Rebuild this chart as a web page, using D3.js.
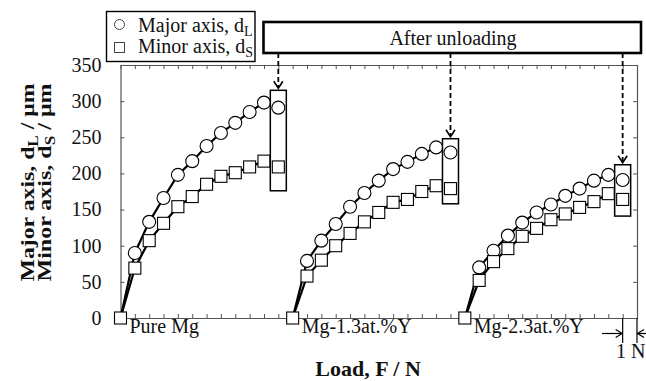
<!DOCTYPE html>
<html><head><meta charset="utf-8">
<script src="https://cdn.jsdelivr.net/npm/d3@7/dist/d3.min.js"></script>
<style>
body{margin:0;background:#fff}
svg{display:block}
text{font-family:"Liberation Serif","Times New Roman",serif;fill:#111}
</style>
</head><body>
<svg id="chart" width="646" height="381"></svg>
<script>
// Indentation diameters under increasing load, three alloys side by side
const groups = ["Pure Mg", "Mg-1.3at.%Y", "Mg-2.3at.%Y"];
const groupOffset = [0, 12, 24];            // load axis offset of each alloy (N)
const loads = [0, 1, 2, 3, 4, 5, 6, 7, 8, 9, 10];
const majorAxis = [
  [0, 90, 133, 166, 198, 217, 238, 256, 270, 285, 298],
  [0, 79, 107, 130, 154, 173, 190, 206, 216, 227, 236],
  [0, 70, 93, 114, 132, 146, 157, 169, 179, 190, 198]
];
const minorAxis = [
  [0, 69, 107, 131, 154, 168, 185, 196, 201, 209, 217],
  [0, 58, 80, 100, 117, 133, 146, 160, 164, 175, 183],
  [0, 52, 78, 96, 113, 124, 136, 144, 153, 161, 172]
];
// values measured after unloading, with the bracketing box
const unloadLoad = 11;
const unloadMajor = [291, 229, 191];
const unloadMinor = [209, 179, 164];
const unloadBoxTop = [315, 248, 212];
const unloadBoxBottom = [176, 158, 141];
const yTicks = [0, 50, 100, 150, 200, 250, 300, 350];
const xMax = 36;

const svg = d3.select("#chart");
const W = 646, H = 381;
const m = {left: 120.5, right: 9, top: 65, bottom: 63};
const x = d3.scaleLinear().domain([0, xMax]).range([m.left, W - m.right]);
const y = d3.scaleLinear().domain([0, 350]).range([H - m.bottom, m.top]);
const axisColor = "#555";

// frame with inward ticks on all four sides
const xt = d3.range(0, xMax + 1);
function styleAxis(g){
  g.selectAll(".domain").attr("stroke", axisColor).attr("stroke-width", 1.2);
  g.selectAll(".tick line").attr("stroke", axisColor).attr("stroke-width", 1);
}
svg.append("g").attr("transform", `translate(0,${y(0)})`)
  .call(d3.axisBottom(x).tickValues(xt).tickSize(-4).tickSizeOuter(0).tickFormat(""))
  .call(styleAxis);
svg.append("g").attr("transform", `translate(0,${y(350)})`)
  .call(d3.axisTop(x).tickValues(xt).tickSize(-4).tickSizeOuter(0).tickFormat(""))
  .call(styleAxis);
svg.append("g").attr("transform", `translate(${x(xMax)},0)`)
  .call(d3.axisRight(y).tickValues(yTicks).tickSize(-4).tickSizeOuter(0).tickFormat(""))
  .call(styleAxis);
const yAxis = svg.append("g").attr("transform", `translate(${x(0)},0)`)
  .call(d3.axisLeft(y).tickValues(yTicks).tickSize(-4).tickSizeOuter(0).tickPadding(19))
  .call(styleAxis);
yAxis.selectAll(".tick text")
  .attr("font-family", '"Liberation Serif","Times New Roman",serif')
  .attr("font-size", 20).attr("fill", "#111");

// y title, two rotated lines
const yTitles = [["Major axis, d", "L", " / μm"], ["Minor axis, d", "S", " / μm"]];
const yTitleX = [33.5, 50.5];
yTitles.forEach((parts, i) => {
  const t = svg.append("text")
    .attr("transform", `translate(${yTitleX[i]},182.5) rotate(-90)`)
    .attr("text-anchor", "middle").attr("font-size", 19.5).attr("font-weight", "bold")
    .attr("textLength", 198).attr("lengthAdjust", "spacingAndGlyphs");
  t.append("tspan").text(parts[0]);
  t.append("tspan").attr("font-size", 14).attr("dy", 4).text(parts[1]);
  t.append("tspan").attr("dy", -4).text(parts[2]);
});

// x title
svg.append("text").attr("x", 368).attr("y", 376)
  .attr("text-anchor", "middle").attr("font-size", 22).attr("font-weight", "bold")
  .text("Load, F / N");

// alloy names
svg.selectAll("text.grp").data(groups).join("text").attr("class", "grp")
  .attr("x", (d, i) => x(groupOffset[i]) + 9).attr("y", 333)
  .attr("font-size", 20).text(d => d);

// curves
const line = d3.line().x(d => x(d[0])).y(d => y(d[1]));
groups.forEach((g, i) => {
  const maj = loads.map((l, j) => [groupOffset[i] + l, majorAxis[i][j]]);
  const min = loads.map((l, j) => [groupOffset[i] + l, minorAxis[i][j]]);
  [maj, min].forEach(pts => svg.append("path").datum(pts)
    .attr("d", line).attr("fill", "none").attr("stroke", "#000").attr("stroke-width", 2.2));
});
groups.forEach((g, i) => {
  const maj = loads.map((l, j) => [groupOffset[i] + l, majorAxis[i][j]]).filter(d => d[0] > groupOffset[i]);
  const min = loads.map((l, j) => [groupOffset[i] + l, minorAxis[i][j]]);
  svg.append("g").selectAll("circle").data(maj).join("circle")
    .attr("cx", d => x(d[0])).attr("cy", d => y(d[1])).attr("r", 6.5)
    .attr("fill", "#fff").attr("stroke", "#000").attr("stroke-width", 1.1);
  svg.append("g").selectAll("rect").data(min).join("rect")
    .attr("x", d => x(d[0]) - 6).attr("y", d => y(d[1]) - 6)
    .attr("width", 12).attr("height", 12)
    .attr("fill", "#fff").attr("stroke", "#000").attr("stroke-width", 1.1);
});

// after-unloading boxes and markers
groups.forEach((g, i) => {
  const cx = x(groupOffset[i] + unloadLoad);
  svg.append("rect").attr("x", cx - 8).attr("y", y(unloadBoxTop[i]))
    .attr("width", 16).attr("height", y(unloadBoxBottom[i]) - y(unloadBoxTop[i]))
    .attr("fill", "#fff").attr("stroke", "#000").attr("stroke-width", 1.5);
  svg.append("circle").attr("cx", cx).attr("cy", y(unloadMajor[i])).attr("r", 6.5)
    .attr("fill", "#fff").attr("stroke", "#000").attr("stroke-width", 1.1);
  svg.append("rect").attr("x", cx - 6).attr("y", y(unloadMinor[i]) - 6)
    .attr("width", 12).attr("height", 12)
    .attr("fill", "#fff").attr("stroke", "#000").attr("stroke-width", 1.1);
});

// "After unloading" banner with dashed arrows down to each box
const banner = {x0: 263.5, x1: 641, y0: 22, y1: 53};
groups.forEach((g, i) => {
  const cx = x(groupOffset[i] + unloadLoad);
  const tip = y(unloadBoxTop[i]) - 2;
  svg.append("line").attr("x1", cx).attr("x2", cx).attr("y1", banner.y1).attr("y2", tip - 1)
    .attr("stroke", "#000").attr("stroke-width", 1.8).attr("stroke-dasharray", "5,3");
  svg.append("path").attr("d", `M${cx - 4.5},${tip - 7}L${cx},${tip}L${cx + 4.5},${tip - 7}`)
    .attr("fill", "none").attr("stroke", "#000").attr("stroke-width", 1.6);
});
svg.append("rect").attr("x", banner.x0).attr("y", banner.y0)
  .attr("width", banner.x1 - banner.x0).attr("height", banner.y1 - banner.y0)
  .attr("fill", "#fff").attr("stroke", "#000").attr("stroke-width", 2.6);
svg.append("text").attr("x", 453).attr("y", 45).attr("text-anchor", "middle")
  .attr("font-size", 20).text("After unloading");

// legend
svg.append("rect").attr("x", 106.5).attr("y", 11.5).attr("width", 148.5).attr("height", 50)
  .attr("fill", "#fff").attr("stroke", "#000").attr("stroke-width", 1.4);
svg.append("circle").attr("cx", 119.5).attr("cy", 24.5).attr("r", 5)
  .attr("fill", "#fff").attr("stroke", "#444").attr("stroke-width", 1);
svg.append("rect").attr("x", 114.5).attr("y", 42.5).attr("width", 10).attr("height", 10)
  .attr("fill", "#fff").attr("stroke", "#444").attr("stroke-width", 1);
const legendItems = [["Major axis, d", "L", 32], ["Minor axis, d", "S", 53]];
legendItems.forEach(([a, sub, by]) => {
  const t = svg.append("text").attr("x", 138).attr("y", by).attr("font-size", 20);
  t.append("tspan").text(a);
  t.append("tspan").attr("font-size", 14).attr("dy", 4).text(sub);
});

// 1 N scale marker below the right end of the load axis
const s0 = x(xMax - 1), s1 = x(xMax), sy = 333.5;
[s0, s1].forEach(sx => svg.append("line").attr("x1", sx).attr("x2", sx)
  .attr("y1", y(0)).attr("y2", 343).attr("stroke", "#000").attr("stroke-width", 1.2));
svg.append("line").attr("x1", 602).attr("x2", s0 - 1).attr("y1", sy).attr("y2", sy)
  .attr("stroke", "#000").attr("stroke-width", 1.2);
svg.append("path").attr("d", `M${s0 - 7},${sy - 4}L${s0 - 0.5},${sy}L${s0 - 7},${sy + 4}`)
  .attr("fill", "none").attr("stroke", "#000").attr("stroke-width", 1.2);
svg.append("line").attr("x1", 646).attr("x2", s1 + 1).attr("y1", sy).attr("y2", sy)
  .attr("stroke", "#000").attr("stroke-width", 1.2);
svg.append("path").attr("d", `M${s1 + 7},${sy - 4}L${s1 + 0.5},${sy}L${s1 + 7},${sy + 4}`)
  .attr("fill", "none").attr("stroke", "#000").attr("stroke-width", 1.2);
svg.append("text").attr("x", (s0 + s1) / 2 + 1).attr("y", 358).attr("text-anchor", "middle")
  .attr("font-size", 20).text("1 N");
</script>
</body></html>
